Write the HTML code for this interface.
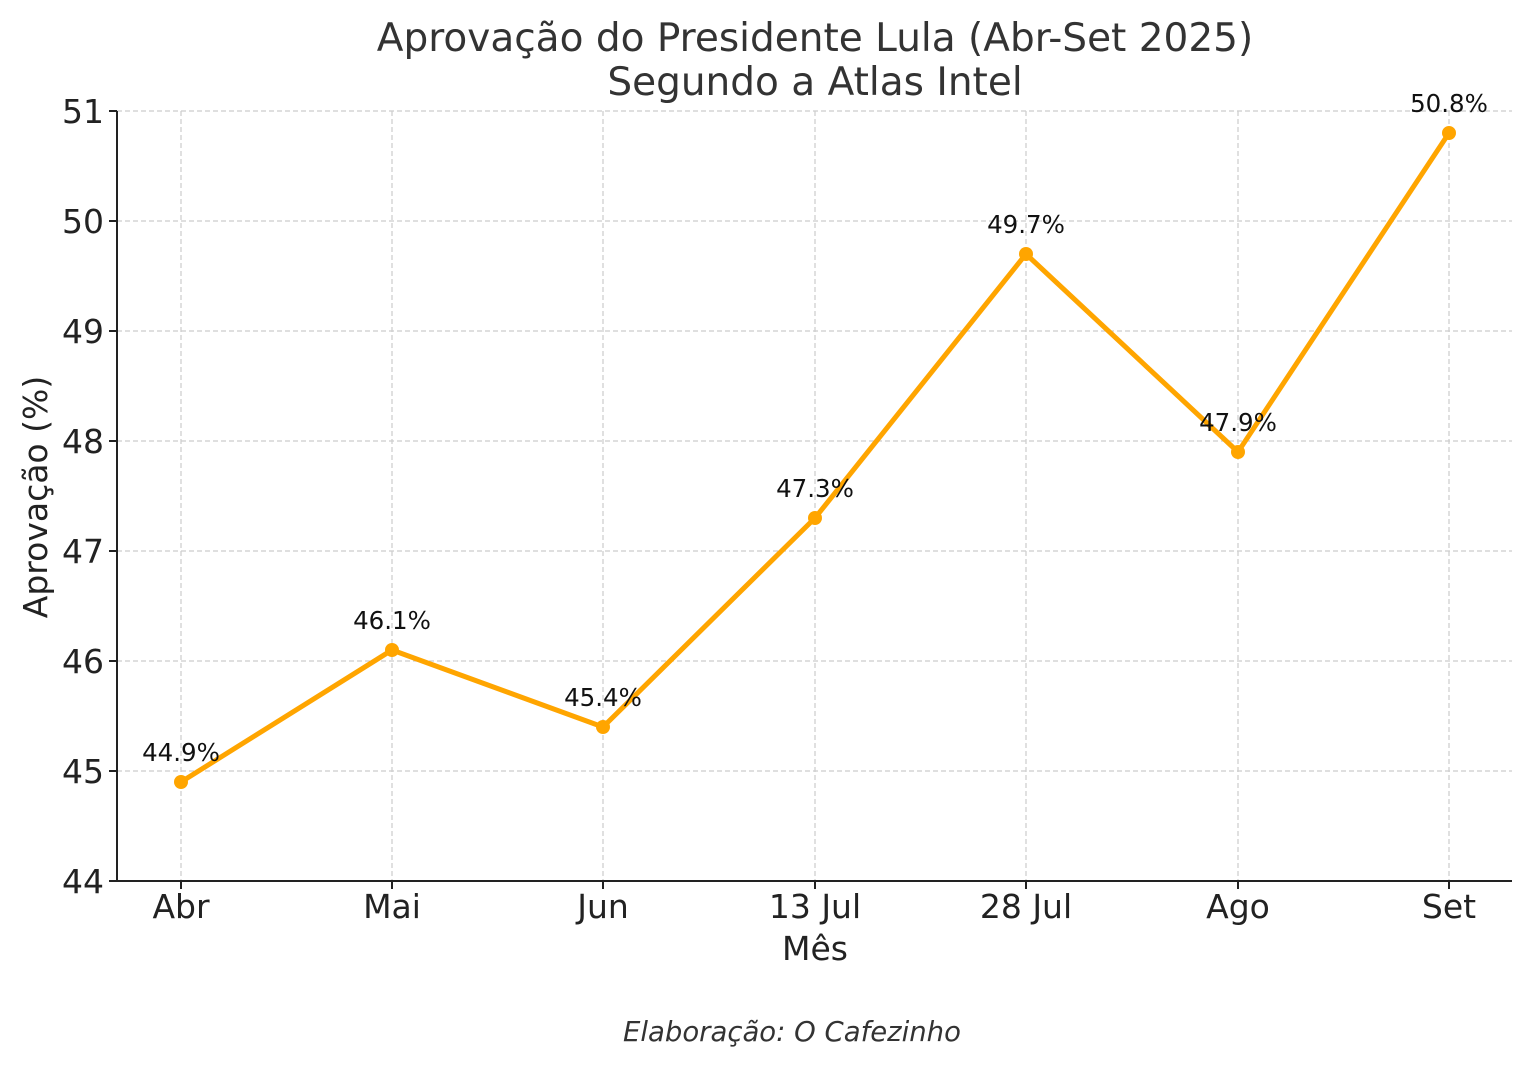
<!DOCTYPE html>
<html><head><meta charset="utf-8"><style>body{margin:0;background:#fff}svg{display:block}</style></head><body>
<svg width="1532" height="1067" viewBox="0 0 1532 1067" xmlns="http://www.w3.org/2000/svg" font-family="DejaVu Sans, Liberation Sans, sans-serif">
<rect width="1532" height="1067" fill="#fff"/>
<g stroke="#cccccc" stroke-width="1.2" stroke-dasharray="5,3">
<line x1="117" x2="1512" y1="111" y2="111"/><line x1="117" x2="1512" y1="221" y2="221"/><line x1="117" x2="1512" y1="331" y2="331"/><line x1="117" x2="1512" y1="441" y2="441"/><line x1="117" x2="1512" y1="551" y2="551"/><line x1="117" x2="1512" y1="661" y2="661"/><line x1="117" x2="1512" y1="771" y2="771"/>
<line x1="181" x2="181" y1="111" y2="881"/><line x1="392" x2="392" y1="111" y2="881"/><line x1="603" x2="603" y1="111" y2="881"/><line x1="815" x2="815" y1="111" y2="881"/><line x1="1026" x2="1026" y1="111" y2="881"/><line x1="1238" x2="1238" y1="111" y2="881"/><line x1="1449" x2="1449" y1="111" y2="881"/>
</g>
<g stroke="#222" stroke-width="2">
<line x1="117" x2="117" y1="111" y2="882"/><line x1="116" x2="1512" y1="881" y2="881"/>
<line x1="109" x2="117" y1="111" y2="111"/><line x1="109" x2="117" y1="221" y2="221"/><line x1="109" x2="117" y1="331" y2="331"/><line x1="109" x2="117" y1="441" y2="441"/><line x1="109" x2="117" y1="551" y2="551"/><line x1="109" x2="117" y1="661" y2="661"/><line x1="109" x2="117" y1="771" y2="771"/><line x1="109" x2="117" y1="881" y2="881"/>
<line x1="181" x2="181" y1="881" y2="889"/><line x1="392" x2="392" y1="881" y2="889"/><line x1="603" x2="603" y1="881" y2="889"/><line x1="815" x2="815" y1="881" y2="889"/><line x1="1026" x2="1026" y1="881" y2="889"/><line x1="1238" x2="1238" y1="881" y2="889"/><line x1="1449" x2="1449" y1="881" y2="889"/>
</g>
<g font-size="33" fill="#222" text-anchor="end">
<text x="104" y="123">51</text><text x="104" y="233">50</text><text x="104" y="343">49</text><text x="104" y="453">48</text><text x="104" y="563">47</text><text x="104" y="673">46</text><text x="104" y="783">45</text><text x="104" y="893">44</text>
</g>
<g font-size="33" fill="#222" text-anchor="middle">
<text x="181" y="918">Abr</text><text x="392" y="918">Mai</text><text x="603" y="918">Jun</text><text x="815" y="918">13 Jul</text><text x="1026" y="918">28 Jul</text><text x="1238" y="918">Ago</text><text x="1449" y="918">Set</text>
<text x="815" y="960">Mês</text>
<text transform="translate(47,497) rotate(-90)">Aprovação (%)</text>
</g>
<g font-size="39" fill="#333" text-anchor="middle">
<text x="815" y="51">Aprovação do Presidente Lula (Abr-Set 2025)</text>
<text x="815" y="95">Segundo a Atlas Intel</text>
</g>
<polyline fill="none" stroke="#FFA500" stroke-width="5" stroke-linejoin="round" points="181,782 392,650 603,727 815,518 1026,254 1238,452 1449,133"/>
<g fill="#FFA500">
<circle cx="181" cy="782" r="7"/><circle cx="392" cy="650" r="7"/><circle cx="603" cy="727" r="7"/><circle cx="815" cy="518" r="7"/><circle cx="1026" cy="254" r="7"/><circle cx="1238" cy="452" r="7"/><circle cx="1449" cy="133" r="7"/>
</g>
<g font-size="24.5" fill="#111" text-anchor="middle">
<text x="181" y="761">44.9%</text><text x="392" y="629">46.1%</text><text x="603" y="706">45.4%</text><text x="815" y="497">47.3%</text><text x="1026" y="233">49.7%</text><text x="1238" y="431">47.9%</text><text x="1449" y="112">50.8%</text>
</g>
<text x="792" y="1041" font-size="27.5" font-style="italic" fill="#333" text-anchor="middle">Elaboração: O Cafezinho</text>
</svg>
</body></html>
